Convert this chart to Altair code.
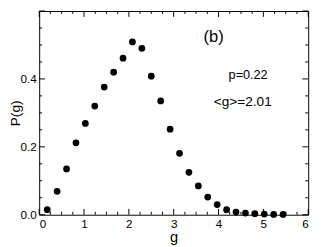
import altair as alt
import pandas as pd

# data
g = [0.18, 0.40, 0.61, 0.82, 1.03, 1.24, 1.45, 1.66, 1.87, 2.08, 2.29, 2.50, 2.71,
     2.92, 3.13, 3.34, 3.55, 3.76, 3.97, 4.18, 4.39, 4.60, 4.81, 5.02, 5.23, 5.44]
P = [0.015, 0.069, 0.135, 0.212, 0.269, 0.320, 0.376, 0.420, 0.461, 0.509, 0.490,
     0.408, 0.335, 0.252, 0.181, 0.125, 0.085, 0.052, 0.030, 0.015, 0.008, 0.005,
     0.003, 0.002, 0.001, 0.001]

x_major = [0, 1, 2, 3, 4, 5, 6]
x_minor = [0.25, 0.5, 0.75, 1.25, 1.5, 1.75, 2.25, 2.5, 2.75, 3.25, 3.5, 3.75,
           4.25, 4.5, 4.75, 5.25, 5.5, 5.75]
y_major = [0.0, 0.2, 0.4, 0.6]
y_minor = [0.05, 0.1, 0.15, 0.25, 0.3, 0.35, 0.45, 0.5, 0.55]
y_labels = [0.0, 0.2, 0.4]

ann_x = [3.89, 4.66, 4.54]
ann_y = [0.523, 0.412, 0.331]
ann_text = ["(b)", "p=0.22", "<g>=2.01"]
ann_size = [17, 13, 14]

W, H = 276, 209
FONT = "Liberation Sans"

xs = alt.Scale(domain=[0, 6], nice=False, zero=False)
ys = alt.Scale(domain=[0, 0.6], nice=False, zero=False)

xaxis = alt.Axis(values=x_major, tickSize=0, domain=False, grid=False,
                 labelPadding=4, labelFontSize=12, titleFontSize=15,
                 titlePadding=0, labelFont=FONT, titleFont=FONT,
                 titleFontWeight="normal", labelColor="black",
                 titleColor="black")
yaxis = alt.Axis(values=y_labels, format=".1f", tickSize=0, domain=False,
                 grid=False, labelPadding=3, labelFontSize=12,
                 titleFontSize=14, labelFont=FONT,
                 titleFont=FONT, titleFontWeight="normal",
                 titleAngle=270, titleBaseline="middle", titleAlign="center",
                 titleX=-24, titleY=H / 2,
                 labelColor="black", titleColor="black")


def X(field):
    return alt.X(field, scale=xs, title="g", axis=xaxis)


def Y(field):
    return alt.Y(field, scale=ys, title="P(g)", axis=yaxis)


df = pd.DataFrame({"g": g, "P": P})

points = alt.Chart(df).mark_circle(color="black", size=48, opacity=1).encode(
    x=X("g:Q"), y=Y("P:Q"))

adf = pd.DataFrame({"x": ann_x, "y": ann_y, "t": ann_text, "s": ann_size})
texts = alt.Chart(adf).mark_text(font=FONT, color="black", align="center",
                                 baseline="middle").encode(
    x=X("x:Q"), y=Y("y:Q"), text="t:N",
    size=alt.Size("s:Q", scale=None, legend=None),
)


def tick_layer(values, side, length):
    d = pd.DataFrame({"v": values})
    base = alt.Chart(d).mark_rule(color="black", strokeWidth=1)
    if side == "bottom":
        return base.encode(x=X("v:Q"), y=alt.value(H), y2=alt.value(H - length))
    if side == "top":
        return base.encode(x=X("v:Q"), y=alt.value(0), y2=alt.value(length))
    if side == "left":
        return base.encode(y=Y("v:Q"), x=alt.value(0), x2=alt.value(length))
    return base.encode(y=Y("v:Q"), x=alt.value(W), x2=alt.value(W - length))


layers = []
for side in ["bottom", "top"]:
    layers.append(tick_layer(x_major, side, 6))
    layers.append(tick_layer(x_minor, side, 3))
for side in ["left", "right"]:
    layers.append(tick_layer(y_major, side, 6))
    layers.append(tick_layer(y_minor, side, 3))

chart = alt.layer(*layers, points, texts).properties(
    width=W, height=H,
    autosize=alt.AutoSizeParams(type="none"),
    padding={"left": 32, "top": 0, "right": 8, "bottom": 30},
    background="white",
).configure_view(stroke="black", strokeWidth=1)

chart.save("out.html", embed_options={"renderer": "svg", "actions": False})
